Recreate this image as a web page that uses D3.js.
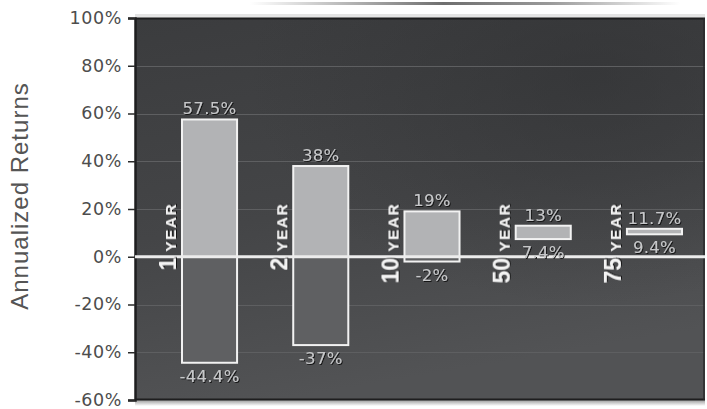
<!DOCTYPE html>
<html>
<head>
<meta charset="utf-8">
<script src="https://cdn.jsdelivr.net/npm/d3@7"></script>
<style>
  html, body { margin: 0; padding: 0; background: #ffffff; }
  svg { display: block; }
</style>
</head>
<body>
<svg id="chart" width="707" height="409"></svg>
<script>
// Holding periods and the best / worst annualized return for each
const periods = ["1", "2", "10", "50", "75"];
const bestReturns = [57.5, 38, 19, 13, 11.7];
const worstReturns = [-44.4, -37, -2, 7.4, 9.4];
const bestLabels = ["57.5%", "38%", "19%", "13%", "11.7%"];
const worstLabels = ["-44.4%", "-37%", "-2%", "7.4%", "9.4%"];
const yTicks = [-60, -40, -20, 0, 20, 40, 60, 80, 100];
const yTickLabels = ["-60%", "-40%", "-20%", "0%", "20%", "40%", "60%", "80%", "100%"];
const yTitle = "Annualized Returns";
const unitWord = "YEAR";

const svg = d3.select("#chart");
const plot = { left: 135, right: 705, top: 18, bottom: 400 };

const y = d3.scaleLinear().domain([-60, 100]).range([plot.bottom, plot.top]);
const x = d3.scaleBand().domain(periods).range([182, 682]).paddingInner(0.505).paddingOuter(0);

const defs = svg.append("defs");

// panel background shading
const bg = defs.append("linearGradient").attr("id", "bg")
  .attr("x1", "0").attr("y1", "0").attr("x2", "0.25").attr("y2", "1");
bg.append("stop").attr("offset", "0").attr("stop-color", "#3b3c3e");
bg.append("stop").attr("offset", "0.55").attr("stop-color", "#444547");
bg.append("stop").attr("offset", "1").attr("stop-color", "#525355");

const shade = defs.append("radialGradient").attr("id", "shade")
  .attr("cx", "0.8").attr("cy", "0.15").attr("r", "0.6");
shade.append("stop").attr("offset", "0").attr("stop-color", "#2e2f31").attr("stop-opacity", 0.55);
shade.append("stop").attr("offset", "1").attr("stop-color", "#2e2f31").attr("stop-opacity", 0);

// thin decorative rule above the panel
const rule = defs.append("linearGradient").attr("id", "rule");
rule.append("stop").attr("offset", "0").attr("stop-color", "#ffffff");
rule.append("stop").attr("offset", "0.45").attr("stop-color", "#6e6e6e");
rule.append("stop").attr("offset", "0.7").attr("stop-color", "#9a9a9a");
rule.append("stop").attr("offset", "1").attr("stop-color", "#ffffff");

const bottomShadow = defs.append("linearGradient").attr("id", "bshadow")
  .attr("x1", 0).attr("y1", 0).attr("x2", 0).attr("y2", 1);
bottomShadow.append("stop").attr("offset", "0").attr("stop-color", "#9a9a9a");
bottomShadow.append("stop").attr("offset", "1").attr("stop-color", "#ffffff");

const ds = defs.append("filter").attr("id", "txtShadow")
  .attr("x", "-20%").attr("y", "-30%").attr("width", "140%").attr("height", "160%");
ds.append("feDropShadow").attr("dx", 1).attr("dy", 1).attr("stdDeviation", 0.7)
  .attr("flood-color", "#111").attr("flood-opacity", 0.9);

svg.append("rect").attr("x", 250).attr("y", 2).attr("width", 430).attr("height", 3)
  .attr("fill", "url(#rule)");
svg.append("rect").attr("x", plot.left).attr("y", 14).attr("width", plot.right - plot.left).attr("height", 4)
  .attr("fill", "#e4e4e4");

// panel
svg.append("rect").attr("x", plot.left).attr("y", plot.top)
  .attr("width", plot.right - plot.left).attr("height", plot.bottom - plot.top)
  .attr("fill", "url(#bg)");
svg.append("rect").attr("x", plot.left).attr("y", plot.top)
  .attr("width", plot.right - plot.left).attr("height", plot.bottom - plot.top)
  .attr("fill", "url(#shade)");
svg.append("rect").attr("x", plot.left).attr("y", plot.bottom)
  .attr("width", plot.right - plot.left).attr("height", 6)
  .attr("fill", "url(#bshadow)");

// gridlines
svg.append("g").selectAll("line")
  .data(yTicks.filter(t => t !== 0 && t !== 100 && t !== -60))
  .join("line")
  .attr("x1", plot.left).attr("x2", plot.right)
  .attr("y1", d => Math.round(y(d)) + 0.5).attr("y2", d => Math.round(y(d)) + 0.5)
  .attr("stroke", "#5e5f61").attr("stroke-width", 1);

// panel border
svg.append("line").attr("x1", plot.left).attr("x2", plot.right)
  .attr("y1", plot.top + 0.5).attr("y2", plot.top + 0.5)
  .attr("stroke", "#1e1e1f").attr("stroke-width", 2);
svg.append("line").attr("x1", plot.left).attr("x2", plot.right)
  .attr("y1", plot.bottom - 0.5).attr("y2", plot.bottom - 0.5)
  .attr("stroke", "#1e1e1f").attr("stroke-width", 2);
svg.append("line").attr("x1", plot.right - 1).attr("x2", plot.right - 1)
  .attr("y1", plot.top).attr("y2", plot.bottom)
  .attr("stroke", "#2a2a2b").attr("stroke-width", 1.5);

// y axis
const yAxis = d3.axisLeft(y).tickValues(yTicks).tickSize(7).tickPadding(6)
  .tickFormat((d, i) => yTickLabels[i]);
const ga = svg.append("g").attr("transform", `translate(${plot.left},0)`).call(yAxis);
ga.select(".domain").attr("stroke", "#1e1e1f").attr("stroke-width", 2.5);
ga.selectAll(".tick line").attr("stroke", "#2a2a2a").attr("stroke-width", 1.5);
ga.selectAll(".tick text")
  .attr("fill", "#4d4d4d")
  .style("font-family", "'DejaVu Sans', sans-serif")
  .style("font-size", "17.5px")
  .style("letter-spacing", "0.6px")
  .attr("dy", "0.3em");

// y axis title
svg.append("text")
  .attr("transform", `translate(28,${196}) rotate(-90)`)
  .attr("text-anchor", "middle")
  .attr("fill", "#555555")
  .style("font-family", "'Liberation Sans', Arial, sans-serif")
  .style("font-size", "24px")
  .style("letter-spacing", "1px")
  .text(yTitle);

// bars: light segment above zero, dark segment below zero, white outline
const rows = periods.map((p, i) => ({ p, hi: bestReturns[i], lo: worstReturns[i], hiLab: bestLabels[i], loLab: worstLabels[i] }));
const gb = svg.append("g");

gb.selectAll("rect.pos").data(rows.filter(d => d.hi > 0)).join("rect")
  .attr("class", "pos")
  .attr("x", d => x(d.p)).attr("width", x.bandwidth())
  .attr("y", d => y(d.hi))
  .attr("height", d => y(Math.max(d.lo, 0)) - y(d.hi))
  .attr("fill", "#b2b3b5");

gb.selectAll("rect.neg").data(rows.filter(d => d.lo < 0)).join("rect")
  .attr("class", "neg")
  .attr("x", d => x(d.p)).attr("width", x.bandwidth())
  .attr("y", d => y(Math.min(d.hi, 0)))
  .attr("height", d => y(d.lo) - y(Math.min(d.hi, 0)))
  .attr("fill", "#5f6062");

gb.selectAll("rect.outline").data(rows).join("rect")
  .attr("class", "outline")
  .attr("x", d => x(d.p)).attr("width", x.bandwidth())
  .attr("y", d => y(d.hi))
  .attr("height", d => y(d.lo) - y(d.hi))
  .attr("fill", "none")
  .attr("stroke", "#f2f2f2").attr("stroke-width", 2);

// zero line
svg.append("line").attr("x1", plot.left).attr("x2", plot.right)
  .attr("y1", y(0)).attr("y2", y(0))
  .attr("stroke", "#ececec").attr("stroke-width", 3);

// value labels
const valueFont = g => g
  .attr("text-anchor", "middle")
  .attr("fill", "#c6c7c9")
  .attr("filter", "url(#txtShadow)")
  .style("font-family", "'DejaVu Sans', sans-serif")
  .style("font-size", "16.5px")
  .style("letter-spacing", "0.3px");

svg.append("g").selectAll("text").data(rows).join("text")
  .attr("x", d => x(d.p) + x.bandwidth() / 2)
  .attr("y", d => y(d.hi) - 5)
  .call(valueFont)
  .text(d => d.hiLab);

svg.append("g").selectAll("text").data(rows).join("text")
  .attr("x", d => x(d.p) + x.bandwidth() / 2)
  .attr("y", d => y(d.lo) + 19)
  .call(valueFont)
  .text(d => d.loLab);

// rotated period labels beside each bar
const cat = svg.append("g").selectAll("text").data(rows).join("text")
  .attr("transform", d => `translate(${x(d.p) - 6},${y(0) - 54}) rotate(-90)`)
  .attr("text-anchor", "end")
  .attr("fill", "#f4f4f4")
  .attr("filter", "url(#txtShadow)")
  .style("font-family", "'Liberation Sans', Arial, sans-serif")
  .style("font-weight", "bold");
cat.append("tspan").style("font-size", "23px").text(d => d.p);
cat.append("tspan").style("font-size", "15.5px").style("letter-spacing", "1.5px")
  .attr("dx", 6).text(unitWord);
</script>
</body>
</html>
